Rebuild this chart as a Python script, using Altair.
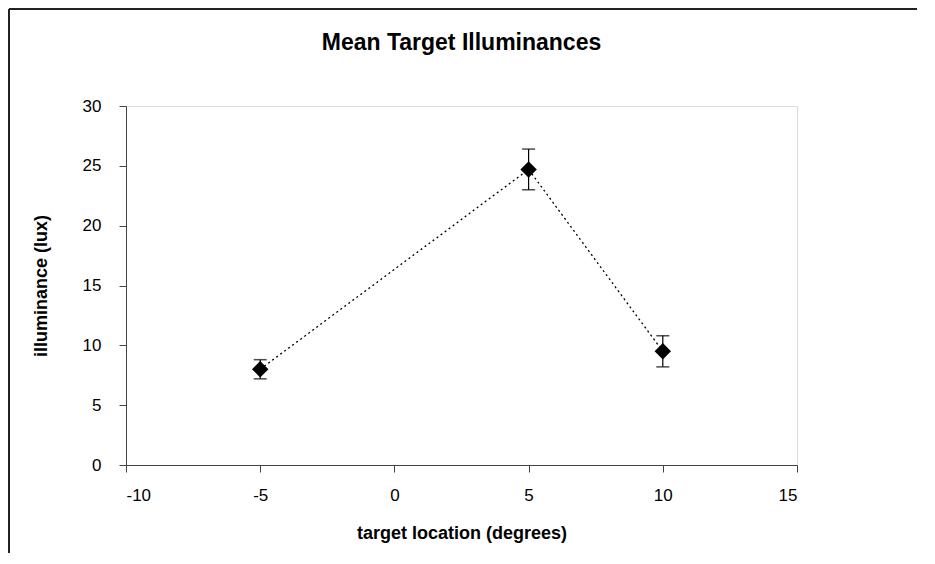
import altair as alt
import pandas as pd

title_text = ["Mean Target Illuminances"]
locations = [-5, 5, 10]
means = [8.0, 24.7, 9.5]
err_low = [7.2, 23.0, 8.2]
err_high = [8.8, 26.4, 10.8]

df = pd.DataFrame({"loc": locations, "mean": means, "lo": err_low, "hi": err_high})
one = pd.DataFrame({"t": title_text})

FONT = "Liberation Sans"

xs = alt.Scale(domain=[-10, 15], nice=False, zero=False)
ys = alt.Scale(domain=[0, 30], nice=False)

x_enc = alt.X("loc:Q", scale=xs,
              axis=alt.Axis(values=[-10, -5, 0, 5, 10, 15], title="target location (degrees)",
                            labelExpr="datum.value",
                            grid=False, tickSize=7, labelPadding=15, titlePadding=21,
                            labelFontSize=17, titleFontSize=18, titleFontWeight="bold",
                            labelFont=FONT, titleFont=FONT, domainColor="#444", tickColor="#444",
                            labelColor="black", titleColor="black"))
y_enc = alt.Y("mean:Q", scale=ys,
              axis=alt.Axis(values=[0, 5, 10, 15, 20, 25, 30], title="illuminance (lux)",
                            grid=False, tickSize=7, labelPadding=18, titlePadding=32,
                            labelFontSize=17, titleFontSize=18, titleFontWeight="bold",
                            labelFont=FONT, titleFont=FONT, domainColor="#444", tickColor="#444",
                            labelColor="black", titleColor="black"))

base = alt.Chart(df)

line = base.mark_line(color="black", strokeDash=[2, 3], strokeWidth=1.3).encode(x=x_enc, y=y_enc)

rules = base.mark_rule(color="black", strokeWidth=1.2).encode(
    x=alt.X("loc:Q", scale=xs), y=alt.Y("lo:Q", scale=ys), y2="hi:Q")
cap_lo = base.mark_tick(color="black", orient="horizontal", size=13, thickness=1.5).encode(
    x=alt.X("loc:Q", scale=xs), y=alt.Y("lo:Q", scale=ys))
cap_hi = base.mark_tick(color="black", orient="horizontal", size=13, thickness=1.5).encode(
    x=alt.X("loc:Q", scale=xs), y=alt.Y("hi:Q", scale=ys))

points = base.mark_point(shape="diamond", filled=True, color="black", size=270, opacity=1).encode(
    x=alt.X("loc:Q", scale=xs), y=alt.Y("mean:Q", scale=ys))

title_mark = alt.Chart(one).mark_text(font=FONT, fontSize=23, fontWeight="bold", color="black",
                                      align="center", baseline="middle").encode(
    text="t:N", x=alt.value(335.5), y=alt.value(-63))

frame_top = alt.Chart(one).mark_rule(color="#222", strokeWidth=2).encode(
    x=alt.value(-117), x2=alt.value(900), y=alt.value(-97))
frame_left = alt.Chart(one).mark_rule(color="#222", strokeWidth=2).encode(
    x=alt.value(-117), y=alt.value(-97), y2=alt.value(600))

chart = alt.layer(line, rules, cap_lo, cap_hi, points, title_mark, frame_top, frame_left).properties(
    width=671, height=359,
    autosize=alt.AutoSizeParams(type="none"),
    padding={"left": 118, "top": 98, "right": 120, "bottom": 88},
).configure_view(stroke="#888", strokeWidth=1.2).configure(background="white")

chart.save("out.html", embed_options={"renderer": "svg", "actions": False})
